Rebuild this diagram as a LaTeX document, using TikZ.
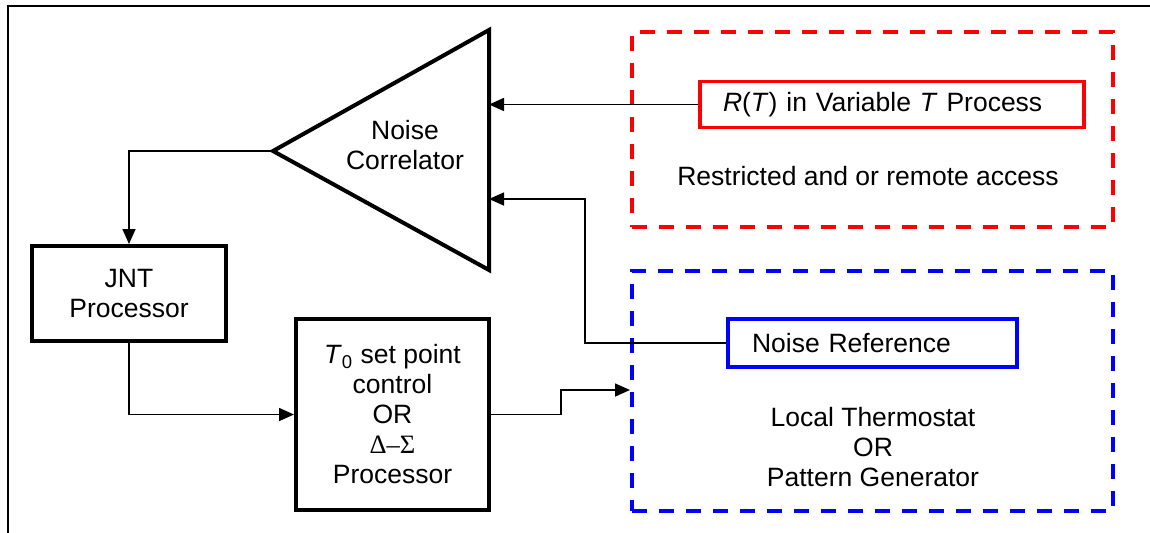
\documentclass[tikz,border=0pt]{standalone}
\usepackage{fontspec}
\setmainfont{Liberation Sans}
\newfontfamily\greekserif{Liberation Serif}
\usetikzlibrary{arrows.meta}

\begin{document}
\begin{tikzpicture}[x=0.5pt,y=-0.5pt,
    font=\fontsize{13.25}{15}\selectfont,
    blk/.style={draw,line width=2pt,align=center},
    inbox/.style={draw,line width=1.7pt,align=left,inner ysep=0pt},
    zone/.style={draw,line width=2pt,dash pattern=on 7.5pt off 6pt},
    arr/.style={-{Triangle[length=7.5pt,width=6.5pt]},line width=0.8pt}]
        \useasboundingbox (0,0) rectangle (1150,532);

        % frame
        \draw[line width=1pt] (8,545) -- (8,6) -- (1165,6);

        % correlator
        \coordinate (ctop) at (489,30);
        \coordinate (cbot) at (489,270);
        \coordinate (capex) at (273,151);
        \draw[line width=2pt,line join=miter] (ctop) -- (cbot) -- (capex) -- cycle;
        \node[align=center] (corr) at (405,145) {Noise\\Correlator};

        % processors
        \node[blk,minimum width=97pt,minimum height=47.5pt] (jnt) at (129,293.5) {JNT\\Processor};
        \node[blk,minimum width=96.5pt,minimum height=95.5pt] (tzero) at (392.5,414.5)
          {\textit{T}\textsubscript{0} set point\\control\\OR\\{\greekserif Δ–Σ}\\Processor};

        % remote side
        \node[zone,draw=red,minimum width=240.5pt,minimum height=97.5pt] (remote) at (872.5,129.5) {};
        \node[inbox,draw=red,text width=169pt,inner xsep=11.5pt,minimum height=23pt] (rt) at (892,104.5)
          {\textit{R}(\textit{T}) in Variable \textit{T} Process};
        \node (acc) at (868,176) {Restricted and or remote access};

        % local side
        \node[zone,draw=blue,minimum width=240.5pt,minimum height=120pt] (local) at (872.5,391) {};
        \node[inbox,draw=blue,text width=120.5pt,inner xsep=12pt,minimum height=24pt] (nref) at (872.5,343)
          {Noise Reference};
        \node[align=center] (loc) at (873,447) {Local Thermostat\\OR\\Pattern Generator};

        % connectors
        \coordinate (bend) at (585,199);
        \coordinate (jog) at (561,390);
        \draw[arr] (rt.west) -- (rt.west -| ctop);
        \draw[arr] (nref.west) -| (bend) -- (bend -| ctop);
        \draw[arr] (capex) -| (jnt.north);
        \draw[arr] (jnt.south) |- (tzero.west);
        \draw[arr] (tzero.east) -| (jog) -- (jog -| local.west);
      \end{tikzpicture}
\end{document}
